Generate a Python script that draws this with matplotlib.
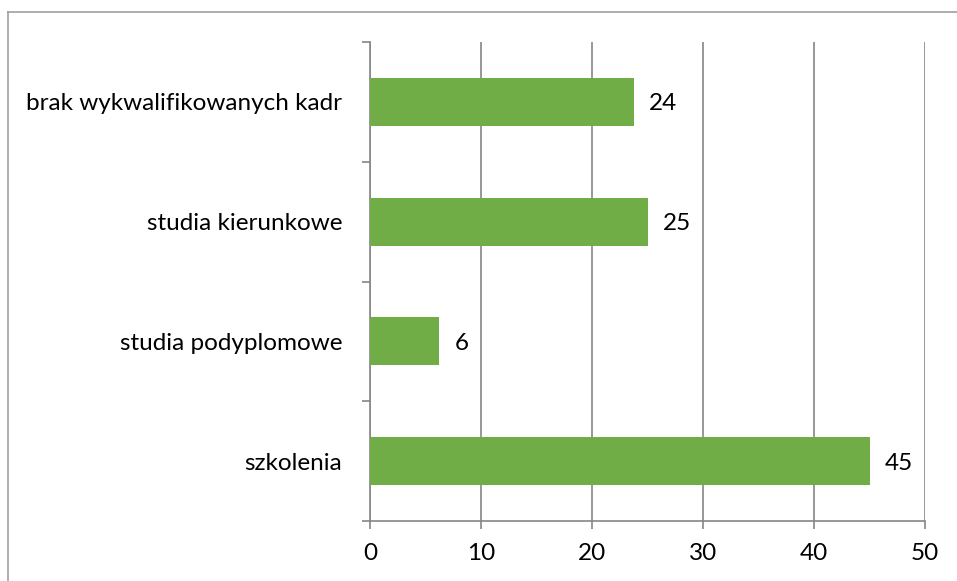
import matplotlib
matplotlib.use("Agg")
import matplotlib.pyplot as plt
from matplotlib.lines import Line2D
import numpy as np

categories = ["szkolenia", "studia podyplomowe", "studia kierunkowe", "brak wykwalifikowanych kadr"]
values = [45, 6.25, 25, 23.75]
value_labels = ["45", "6", "25", "24"]
x_ticks = [0, 10, 20, 30, 40, 50]

plt.rcParams['font.family'] = ['Lato', 'DejaVu Sans']
FS = 17.5

fig = plt.figure(figsize=(9.57, 5.81), dpi=100)
ax = fig.add_axes([370/957, 1-521/581, (925-370)/957, (521-42)/581])

grey = "#868686"
y = np.arange(len(categories))
ax.barh(y, values, height=0.4, color="#70AD47", zorder=3)
for yi, v, lab in zip(y, values, value_labels):
    ax.annotate(lab, (v, yi), xytext=(11, -1.5), textcoords="offset points",
                va="center", ha="left", fontsize=FS, color="black")

ax.set_xlim(0, 50)
ax.set_ylim(-0.5, len(categories) - 0.5)
ax.set_xticks(x_ticks)
ax.set_xticklabels([str(t) for t in x_ticks], fontsize=FS)
ax.xaxis.grid(True, color=grey, linewidth=1.2, zorder=0)
ax.set_yticks(np.arange(-0.5, len(categories), 1.0))
ax.set_yticklabels([])
ax.set_yticks(y, minor=True)
ax.set_yticklabels(categories, minor=True, fontsize=FS)
ax.tick_params(axis="y", which="minor", length=0, pad=20)
ax.tick_params(axis="y", which="major", length=6, color=grey, width=1.2)
ax.tick_params(axis="x", length=6, color=grey, width=1.2, pad=10)
for s in ["top", "right"]:
    ax.spines[s].set_visible(False)
for s in ["left", "bottom"]:
    ax.spines[s].set_color(grey)
    ax.spines[s].set_linewidth(1.2)

# outer frame (top and left visible)
fig.add_artist(Line2D([8/957, 1], [1-12/581, 1-12/581], transform=fig.transFigure, color="#a0a0a0", linewidth=1.2))
fig.add_artist(Line2D([8/957, 8/957], [0, 1-12/581], transform=fig.transFigure, color="#a0a0a0", linewidth=1.2))

fig.savefig("out.png", dpi=100)
